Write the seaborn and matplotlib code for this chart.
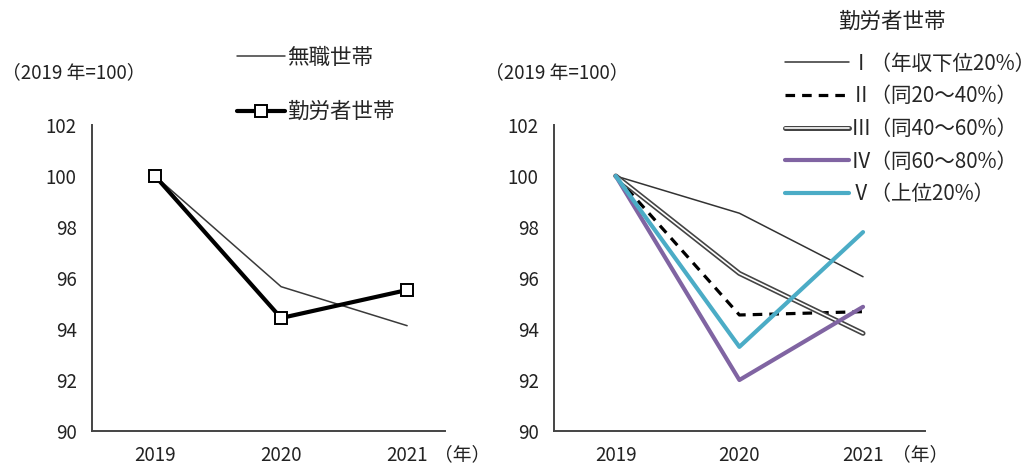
import numpy as np
import pandas as pd
import matplotlib.pyplot as plt
import matplotlib.patheffects as pe
import seaborn as sns

# === データ（2019年=100） ===
years = [2019, 2020, 2021]
mushoku = [100, 95.66, 94.13]      # 無職世帯
kinrou = [100, 94.43, 95.53]       # 勤労者世帯

q1 = [100, 98.54, 96.05]   # Ⅰ（年収下位20%）
q2 = [100, 94.55, 94.68]   # Ⅱ（同20～40%）
q3 = [100, 96.18, 93.83]   # Ⅲ（同40～60%）
q4 = [100, 92.00, 94.87]   # Ⅳ（同60～80%）
q5 = [100, 93.30, 97.80]   # Ⅴ（上位20%）

left_labels = ['無職世帯', '勤労者世帯']
right_labels = ['Ⅰ（年収下位20%）', 'Ⅱ（同20～40%）', 'Ⅲ（同40～60%）',
                'Ⅳ（同60～80%）', 'Ⅴ（上位20%）']
yticks = [90, 92, 94, 96, 98, 100, 102]

sns.set_style('white')
plt.rcParams['font.family'] = ['Noto Sans CJK JP', 'DejaVu Sans']

fig = plt.figure(figsize=(10.36, 4.69), dpi=100)
ax1 = fig.add_axes([0.0888, 0.081, 0.3407, 0.6525])
ax2 = fig.add_axes([0.5347, 0.081, 0.358, 0.6525])

# === 左図 ===
sns.lineplot(x=years, y=mushoku, ax=ax1, color='#3a3a3a', lw=1.1, label=left_labels[0])
sns.lineplot(x=years, y=kinrou, ax=ax1, color='black', lw=3, marker='s', markersize=9,
             markerfacecolor='white', markeredgecolor='black', markeredgewidth=1.4,
             label=left_labels[1])

# === 右図 ===
sns.lineplot(x=years, y=q1, ax=ax2, color='#333333', lw=1.1, label=right_labels[0])
sns.lineplot(x=years, y=q2, ax=ax2, color='black', lw=2.3, dashes=(3, 2.2), label=right_labels[1])
l3 = sns.lineplot(x=years, y=q3, ax=ax2, color='white', lw=1.2, label=right_labels[2]).lines[-1]
l3.set_path_effects([pe.Stroke(linewidth=3.6, foreground='#444444'), pe.Normal()])
sns.lineplot(x=years, y=q4, ax=ax2, color='#8064A2', lw=3, label=right_labels[3])
sns.lineplot(x=years, y=q5, ax=ax2, color='#4BACC6', lw=3, label=right_labels[4])

for ax in (ax1, ax2):
    ax.set_ylim(90, 102)
    ax.set_yticks(yticks)
    ax.set_xticks(years)
    ax.set_xticklabels([str(y) for y in years])
    sns.despine(ax=ax)
    for s in ('left', 'bottom'):
        ax.spines[s].set_color('#444444')
        ax.spines[s].set_linewidth(1.4)
    ax.tick_params(axis='both', length=0, labelsize=13.5, colors='#222222')
    ax.tick_params(axis='y', pad=11)
    ax.tick_params(axis='x', pad=10)
    ax.set_xlabel('')
    ax.set_ylabel('')
    ax.get_legend().remove()

ax1.set_xlim(2018.5, 2021.3)
ax2.set_xlim(2018.5, 2021.5)

# 単位表記
fig.text(0.002, 0.845, '（2019 年=100）', fontsize=13.5, color='#222222', va='center')
fig.text(0.468, 0.845, '（2019 年=100）', fontsize=13.5, color='#222222', va='center')
fig.text(0.419, 0.030, '（年）', fontsize=13.5, color='#222222', va='center')
fig.text(0.861, 0.030, '（年）', fontsize=13.5, color='#222222', va='center')

# 凡例
h1, lb1 = ax1.get_legend_handles_labels()
fig.legend(h1, lb1, loc='upper left', bbox_to_anchor=(0.229, 0.90), frameon=False,
           fontsize=15.5, handlelength=2.2, handletextpad=0.12, labelspacing=1.5,
           borderpad=0, borderaxespad=0)

h2, lb2 = ax2.get_legend_handles_labels()
fig.legend(h2, lb2, loc='upper left', bbox_to_anchor=(0.758, 0.888), frameon=False,
           fontsize=14.8, handlelength=3.1, handletextpad=0.1, labelspacing=0.52,
           borderpad=0, borderaxespad=0)
fig.text(0.861, 0.953, '勤労者世帯', fontsize=15.5, color='#222222', ha='center', va='center')

fig.savefig('out.png', dpi=100)
